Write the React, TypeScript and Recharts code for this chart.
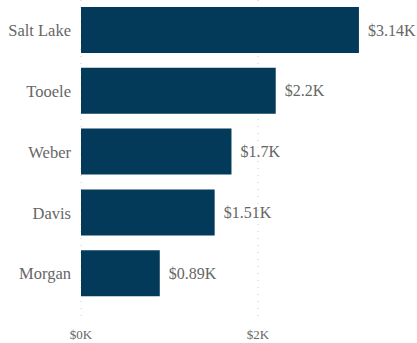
import React from "react";
import { BarChart, Bar, XAxis, YAxis, CartesianGrid, LabelList } from "recharts";

const counties = ["Salt Lake", "Tooele", "Weber", "Davis", "Morgan"];
const amounts = [3140, 2200, 1700, 1510, 890];
const amountLabels = ["$3.14K", "$2.2K", "$1.7K", "$1.51K", "$0.89K"];
const xTicks = [0, 2000];

const data = counties.map((county, i) => ({
  county,
  amount: amounts[i],
  label: amountLabels[i],
}));

const FONT = '"Liberation Serif", "Times New Roman", serif';
const TEXT = "#666666";

export default function App() {
  return (
    <div style={{ position: "absolute", left: 0, top: 0 }}>
      <BarChart
        width={417}
        height={343}
        data={data}
        layout="vertical"
        margin={{ top: 0, right: 8.5, bottom: 0, left: 0 }}
        barSize={46}
      >
        <CartesianGrid
          horizontal={false}
          stroke="#cccccc"
          strokeDasharray="1 6"
          verticalValues={xTicks}
        />
        <XAxis
          type="number"
          domain={[0, 3700]}
          ticks={xTicks}
          tickFormatter={(v: number) => `$${v / 1000}K`}
          axisLine={false}
          tickLine={false}
          height={21}
          tick={{ fill: TEXT, fontSize: 13, fontFamily: FONT }}
        />
        <YAxis
          type="category"
          dataKey="county"
          width={81}
          axisLine={false}
          tickLine={false}
          tickMargin={4}
          padding={{ top: 0, bottom: 18 }}
          tick={{ fill: TEXT, fontSize: 16.5, fontFamily: FONT }}
        />
        <Bar dataKey="amount" fill="#033a59" isAnimationActive={false}>
          <LabelList
            dataKey="label"
            position="right"
            offset={9}
            style={{ fill: TEXT, fontSize: 16, fontFamily: FONT }}
          />
        </Bar>
      </BarChart>
    </div>
  );
}
